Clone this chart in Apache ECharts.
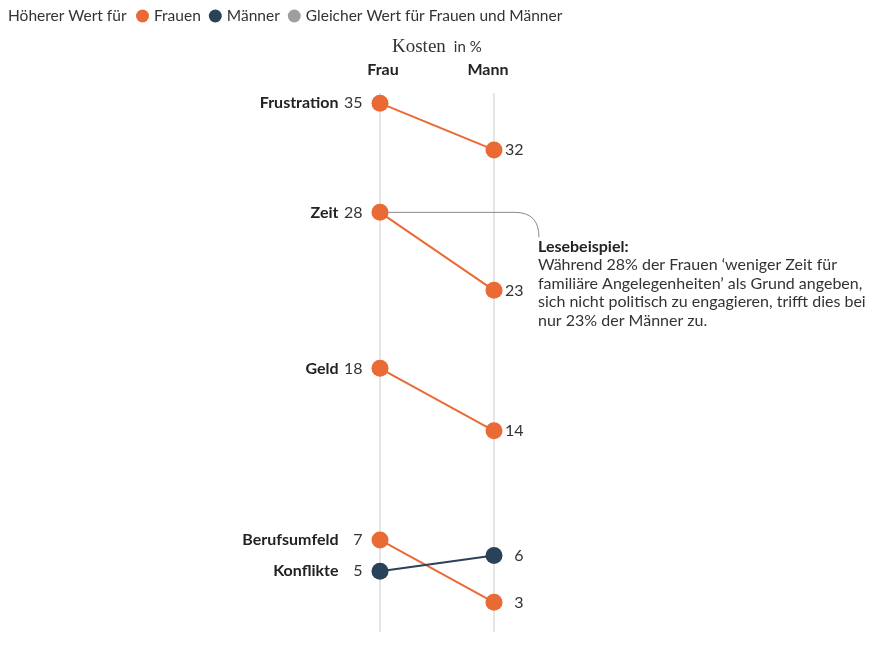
<!DOCTYPE html>
<html>
<head>
<meta charset="utf-8">
<script src="https://cdn.jsdelivr.net/npm/echarts@6/dist/echarts.min.js"></script>
<style>
  html, body { margin: 0; padding: 0; background: #fff; }
  #chart { width: 873px; height: 650px; }
</style>
</head>
<body>
<div id="chart"></div>
<script>
  const categories = ["Frustration", "Zeit", "Geld", "Berufsumfeld", "Konflikte"];
  const frau = [35, 28, 18, 7, 5];
  const mann = [32, 23, 14, 3, 6];
  const columns = ["Frau", "Mann"];
  const legendNames = ["Frauen", "Männer", "Gleicher Wert für Frauen und Männer"];
  const note = [
    "Während 28% der Frauen ‘weniger Zeit für",
    "familiäre Angelegenheiten’ als Grund angeben,",
    "sich nicht politisch zu engagieren, trifft dies bei",
    "nur 23% der Männer zu."
  ];

  const ORANGE = "#EA6A36";
  const NAVY = "#2A4259";
  const GREY = "#9E9E9E";
  const FONT = "Lato, 'Noto Sans', sans-serif";

  function colorFor(i) {
    if (frau[i] > mann[i]) return ORANGE;
    if (frau[i] < mann[i]) return NAVY;
    return GREY;
  }
  function nameFor(i) {
    if (frau[i] > mann[i]) return legendNames[0];
    if (frau[i] < mann[i]) return legendNames[1];
    return legendNames[2];
  }

  const series = categories.map(function (cat, i) {
    const c = colorFor(i);
    return {
      type: "line",
      name: nameFor(i),
      color: c,
      symbol: "circle",
      symbolSize: 17,
      lineStyle: { color: c, width: 2 },
      itemStyle: { color: c },
      z: 2 + i,
      data: [
        {
          value: [0, frau[i]],
          label: {
            show: true,
            position: "left",
            distance: 9,
            formatter: "{n|" + cat + "}{v|" + frau[i] + "}",
            rich: {
              n: { fontFamily: FONT, fontWeight: "bold", fontSize: 16, color: "#222" },
              v: { fontFamily: FONT, fontSize: 16, color: "#333", width: 24, align: "right" }
            }
          }
        },
        {
          value: [1, mann[i]],
          label: {
            show: true,
            position: "right",
            distance: 1,
            formatter: "{v|" + mann[i] + "}",
            rich: {
              v: { fontFamily: FONT, fontSize: 16, color: "#333", width: 20, align: "right" }
            }
          }
        }
      ]
    };
  });
  series.push({ type: "line", name: legendNames[2], color: GREY, data: [] });

  const colLabel = { fontFamily: FONT, fontWeight: "bold", fontSize: 16, color: "#222" };

  const chart = echarts.init(document.getElementById("chart"));
  const option = {
    animation: false,
    title: [
      {
        text: "Höherer Wert für",
        left: 8,
        top: 8,
        padding: 0,
        textStyle: { fontFamily: FONT, fontSize: 15.5, fontWeight: "normal", color: "#333" }
      },
      {
        text: "{a|Kosten} {b|in %}",
        left: 392,
        top: 38,
        padding: 0,
        textStyle: {
          rich: {
            a: { fontFamily: "'Liberation Serif', 'DejaVu Serif', serif", fontWeight: "normal", fontSize: 19, color: "#333" },
            b: { fontFamily: FONT, fontWeight: "normal", fontSize: 15, color: "#333", padding: [0, 0, 0, 3] }
          }
        }
      }
    ],
    legend: {
      data: legendNames.map(function (n, k) {
        return { name: n, itemStyle: { color: [ORANGE, NAVY, GREY][k] } };
      }),
      icon: "circle",
      left: 136,
      top: 8,
      padding: 0,
      itemWidth: 13,
      itemHeight: 13,
      itemGap: 8,
      selectedMode: false,
      textStyle: { fontFamily: FONT, fontSize: 15.5, color: "#333" }
    },
    grid: { left: 380, right: 379, top: 93, bottom: 18 },
    xAxis: {
      type: "value",
      position: "top",
      min: 0,
      max: 1,
      interval: 1,
      axisLine: { show: false },
      axisTick: { show: false },
      axisLabel: {
        margin: 15,
        formatter: function (v) {
          return v === 0 ? "{f|" + columns[0] + "}" : v === 1 ? "{m|" + columns[1] + "}" : "";
        },
        rich: {
          f: Object.assign({ padding: [0, 0, 0, 6] }, colLabel),
          m: Object.assign({ padding: [0, 12, 0, 0] }, colLabel)
        }
      },
      splitLine: { show: true, lineStyle: { color: "#DDDDDD", width: 1.5 } }
    },
    yAxis: {
      type: "value",
      min: 1.1,
      max: 35.65,
      show: false
    },
    series: series
  };
  chart.setOption(option);

  // Lesebeispiel callout, anchored to the "Zeit" point
  const zi = categories.indexOf("Zeit");
  const p = chart.convertToPixel({ gridIndex: 0 }, [0, frau[zi]]);
  const bendX = p[0] + 135;
  const endX = bendX + 24;
  chart.setOption({
    graphic: [
      {
        type: "line",
        z: 1,
        shape: { x1: p[0], y1: p[1], x2: bendX, y2: p[1] },
        style: { stroke: "#888", lineWidth: 1 }
      },
      {
        type: "bezierCurve",
        z: 1,
        shape: { x1: bendX, y1: p[1], cpx1: endX, cpy1: p[1], x2: endX, y2: p[1] + 25 },
        style: { fill: null, stroke: "#888", lineWidth: 1 }
      },
      {
        type: "text",
        x: endX - 1,
        y: p[1] + 25,
        style: {
          text: "{h|Lesebeispiel:}\n" + note.join("\n"),
          rich: {
            h: { fontFamily: FONT, fontWeight: "bold", fontSize: 16, fill: "#222", lineHeight: 18.5 }
          },
          font: "16px " + FONT,
          lineHeight: 18.5,
          fill: "#333"
        }
      }
    ]
  });
</script>
</body>
</html>
